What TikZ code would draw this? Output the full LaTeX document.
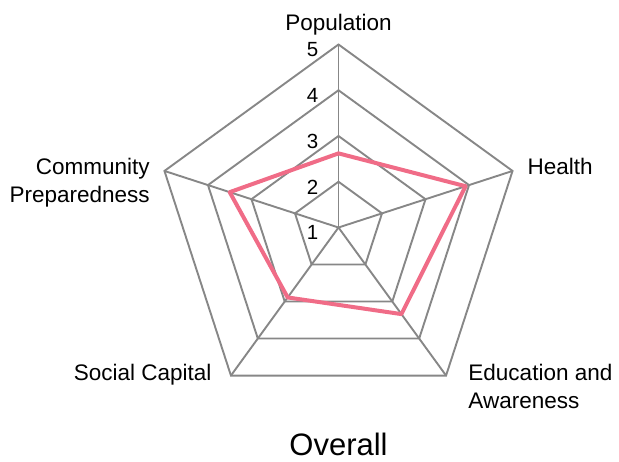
\documentclass[tikz,border=0pt]{standalone}
\usepackage{fontspec}
\setmainfont{Liberation Sans}
\definecolor{gridgray}{RGB}{135,135,135}
\definecolor{datapink}{RGB}{240,108,135}
\tikzset{
  gridline/.style={draw=gridgray, line width=1.9pt},
  dataline/.style={draw=datapink, line width=4pt, line join=round},
  axislabel/.style={font=\fontsize{22.5}{27.8}\selectfont, inner sep=0pt},
  ticklabel/.style={font=\fontsize{20.5}{24}\selectfont, inner sep=0pt, anchor=north east},
}

\begin{document}
\begin{tikzpicture}[x=1pt, y=1pt]
  \useasboundingbox (0,0) rectangle (619,461);
  % centre and grid points (level 1 sits at the centre)
  \coordinate (c) at (338.5,233.5);
  \foreach \a/\ang in {1/90, 2/18, 3/-54, 4/-126, 5/162}{
    \foreach \l in {1,...,5}
      \coordinate (g\l-\a) at ([shift={(\ang:{(\l-1)*45.75})}]c);
  }
  % rings
  \foreach \l in {2,...,5}
    \draw[gridline] (g\l-1) -- (g\l-2) -- (g\l-3) -- (g\l-4) -- (g\l-5) -- cycle;
  % spokes
  \foreach \a in {1,...,5}
    \draw[gridline] (c) -- (g5-\a);
  % data
  \foreach \a/\ang/\v in {1/90/2.62, 2/18/3.92, 3/-54/3.34, 4/-126/2.89, 5/162/3.5}
    \coordinate (d\a) at ([shift={(\ang:{(\v-1)*45.75})}]c);
  \draw[dataline] (d1) -- (d2) -- (d3) -- (d4) -- (d5) -- cycle;
  % scale numbers
  \foreach \l in {1,...,5}
    \node[ticklabel] (t\l) at ([shift={(-20,2)}]g\l-1) {\l};
  % axis labels
  \node[axislabel, anchor=base] (pop) at ([shift={(0,13.8)}]g5-1) {Population};
  \node[axislabel, anchor=base west] (health) at ([shift={(14.8,-3.3)}]g5-2) {Health};
  \node[axislabel, anchor=north west, align=left] (edu) at ([shift={(22.2,11.7)}]g5-3) {Education and\\Awareness};
  \node[axislabel, anchor=base east] (social) at ([shift={(-19.2,-5.1)}]g5-4) {Social Capital};
  \node[axislabel, anchor=north east, align=right] (comm) at ([shift={(-14.5,13.1)}]g5-5) {Community\\Preparedness};
  % title
  \node[font=\fontsize{31}{36}\selectfont, inner sep=0pt, anchor=base] (title) at (338.5,5.5) {Overall};
\end{tikzpicture}
\end{document}
